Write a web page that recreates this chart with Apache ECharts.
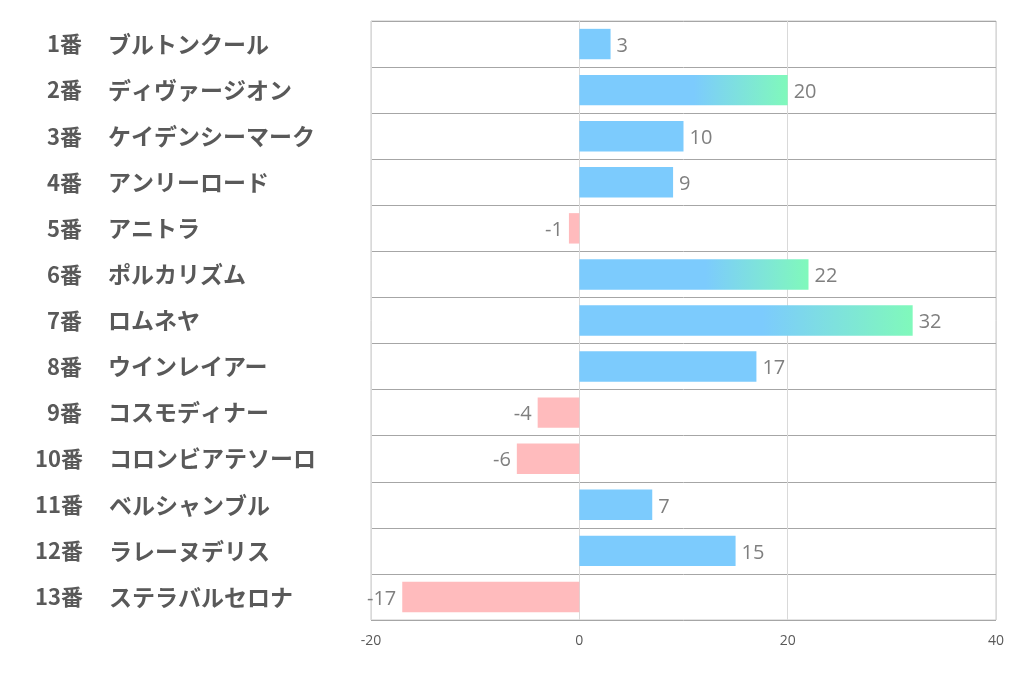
<!DOCTYPE html>
<html><head><meta charset="utf-8">
<script src="https://cdn.jsdelivr.net/npm/echarts@6/dist/echarts.min.js"></script>
<style>html,body{margin:0;padding:0;background:#fff}#c{width:1022px;height:678px}</style>
</head><body><div id="c"></div>
<script>
const numbers = ['1番','2番','3番','4番','5番','6番','7番','8番','9番','10番','11番','12番','13番'];
const names = ['ブルトンクール','ディヴァージオン','ケイデンシーマーク','アンリーロード','アニトラ','ポルカリズム','ロムネヤ','ウインレイアー','コスモディナー','コロンビアテソーロ','ベルシャンブル','ラレーヌデリス','ステラバルセロナ'];
const values = [3,20,10,9,-1,22,32,17,-4,-6,7,15,-17];
const xTicks = [-20,0,20,40];

const BLUE = '#7ccbfd', GREEN = '#80f9bb', PINK = '#ffbbbd';
const cats = numbers.map((n,i)=>n+'|'+names[i]);
const data = values.map(v=>{
  let color;
  if (v < 0) color = PINK;
  else if (v >= 20) color = {type:'linear',x:0,y:0,x2:1,y2:0,colorStops:[{offset:0,color:BLUE},{offset:0.55,color:BLUE},{offset:1,color:GREEN}]};
  else color = BLUE;
  return {value:v,itemStyle:{color},label:{position:v<0?'left':'right'}};
});

const font = {fontWeight:'bold',color:'#595959',fontFamily:'Noto Sans CJK JP'};
const chart = echarts.init(document.getElementById('c'));
chart.setOption({
  animation:false,
  grid:{left:371,right:26,top:21,bottom:58,show:true,borderColor:'#c8c8c8',borderWidth:1},
  xAxis:{type:'value',min:xTicks[0],max:xTicks[xTicks.length-1],interval:20,
    axisLine:{show:false},axisTick:{show:false},
    splitLine:{lineStyle:{color:'#d9d9d9'}},
    axisLabel:{color:'#595959',fontSize:14,margin:14,fontFamily:'Open Sans'}},
  yAxis:{type:'category',inverse:true,data:cats,
    axisLine:{show:false},axisTick:{show:false},
    splitLine:{show:true,lineStyle:{color:'#a6a6a6'}},
    axisLabel:{align:'left',margin:336,
      formatter:(v)=>{const p=v.split('|');const k=p[0].length>2?'n2':'n1';return '{'+k+'|'+p[0]+'}{s|'+p[1]+'}';},
      rich:{
        n1:Object.assign({fontSize:22,padding:[0,0,0,12]},font),
        n2:Object.assign({fontSize:22},font),
        s:Object.assign({fontSize:23,padding:[0,0,0,26]},font)
      }}},
  series:[{type:'bar',data:data,barWidth:'66%',
    label:{show:true,color:'#7f7f7f',fontSize:20,distance:6,offset:[0,2],fontFamily:'Open Sans'}}]
});
</script></body></html>
